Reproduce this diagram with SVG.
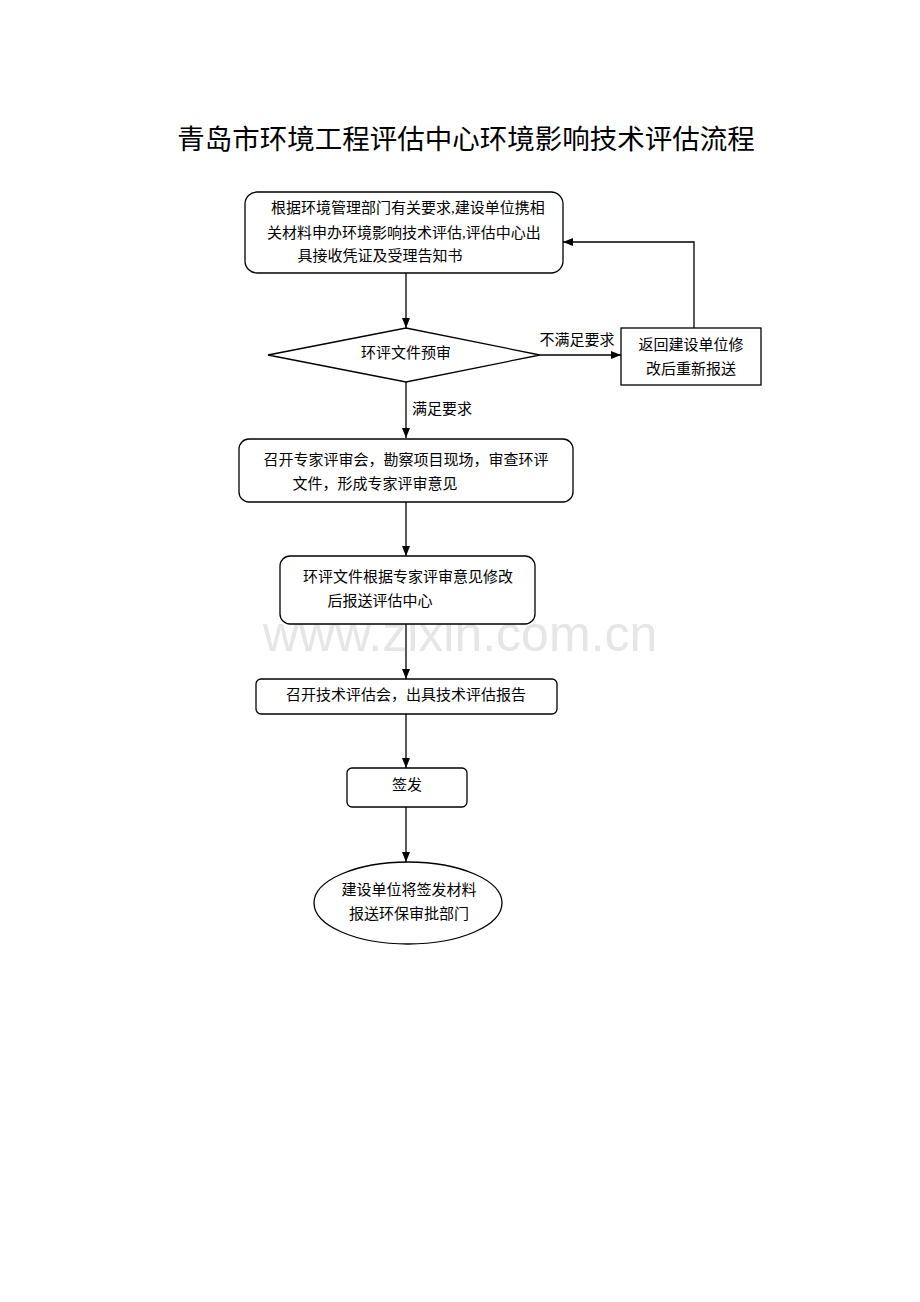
<svg xmlns="http://www.w3.org/2000/svg" width="920" height="1302" viewBox="0 0 920 1302">
<defs>
<style>
.n{fill:#fff;stroke:#000;stroke-width:1.3}
.t{font-family:"Liberation Serif","Noto Sans CJK SC",serif;font-size:15px;text-anchor:middle;dominant-baseline:middle;fill:#000}
.c{fill:none;stroke:#000;stroke-width:1.3}
</style>
<marker id="a" viewBox="0 0 10 10" refX="10" refY="5" markerWidth="8" markerHeight="8" orient="auto"><path d="M0,1 L10,5 L0,9 z" fill="#000"/></marker>
</defs>
<rect width="920" height="1302" fill="#fff"/>
<text x="466" y="143" style="font-family:'Liberation Serif','Noto Sans CJK SC',serif;font-size:27.5px;text-anchor:middle;dominant-baseline:middle">青岛市环境工程评估中心环境影响技术评估流程</text>
<text x="460" y="638" style="font-family:'Liberation Sans',sans-serif;font-size:50px;text-anchor:middle;dominant-baseline:middle;fill:#e6e6e6">www.zixin.com.cn</text>
<g id="connectors">
<path class="c" d="M406,273 V328" marker-end="url(#a)"/>
<path class="c" d="M540,355 H621" marker-end="url(#a)"/>
<path class="c" d="M694,328 V242 H563" marker-end="url(#a)"/>
<path class="c" d="M406,382 V438" marker-end="url(#a)"/>
<path class="c" d="M406,502 V556" marker-end="url(#a)"/>
<path class="c" d="M406,624 V679" marker-end="url(#a)"/>
<path class="c" d="M406,714 V768" marker-end="url(#a)"/>
<path class="c" d="M406,807 V862" marker-end="url(#a)"/>
<text class="t" x="577" y="342">不满足要求</text>
<text class="t" x="442" y="411">满足要求</text>
</g>
<g id="n1"><rect class="n" x="245" y="192" width="318" height="81" rx="12"/>
<text class="t" x="408" y="210">根据环境管理部门有关要求,建设单位携相</text>
<text class="t" x="404" y="235">关材料申办环境影响技术评估,评估中心出</text>
<text class="t" x="380" y="258">具接收凭证及受理告知书</text></g>
<g id="n2"><polygon class="n" points="268,355 406,328 540,355 406,382"/><text class="t" x="406" y="355">环评文件预审</text></g>
<g id="n3"><rect class="n" x="621" y="328" width="140" height="57"/>
<text class="t" x="691" y="347">返回建设单位修</text><text class="t" x="691" y="371">改后重新报送</text></g>
<g id="n4"><rect class="n" x="239" y="439" width="334" height="63" rx="10"/>
<text class="t" x="406" y="462">召开专家评审会，勘察项目现场，审查环评</text>
<text class="t" x="375" y="486">文件，形成专家评审意见</text></g>
<g id="n5"><rect class="n" x="280" y="556" width="255" height="68" rx="10"/>
<text class="t" x="408" y="579">环评文件根据专家评审意见修改</text>
<text class="t" x="380" y="603">后报送评估中心</text></g>
<g id="n6"><rect class="n" x="256" y="679" width="301" height="35" rx="5"/><text class="t" x="406" y="697">召开技术评估会，出具技术评估报告</text></g>
<g id="n7"><rect class="n" x="347" y="768" width="120" height="39" rx="5"/><text class="t" x="407" y="787">签发</text></g>
<g id="n8"><ellipse class="n" cx="408" cy="903" rx="94" ry="41"/>
<text class="t" x="409" y="892">建设单位将签发材料</text><text class="t" x="409" y="916">报送环保审批部门</text></g>
</svg>
